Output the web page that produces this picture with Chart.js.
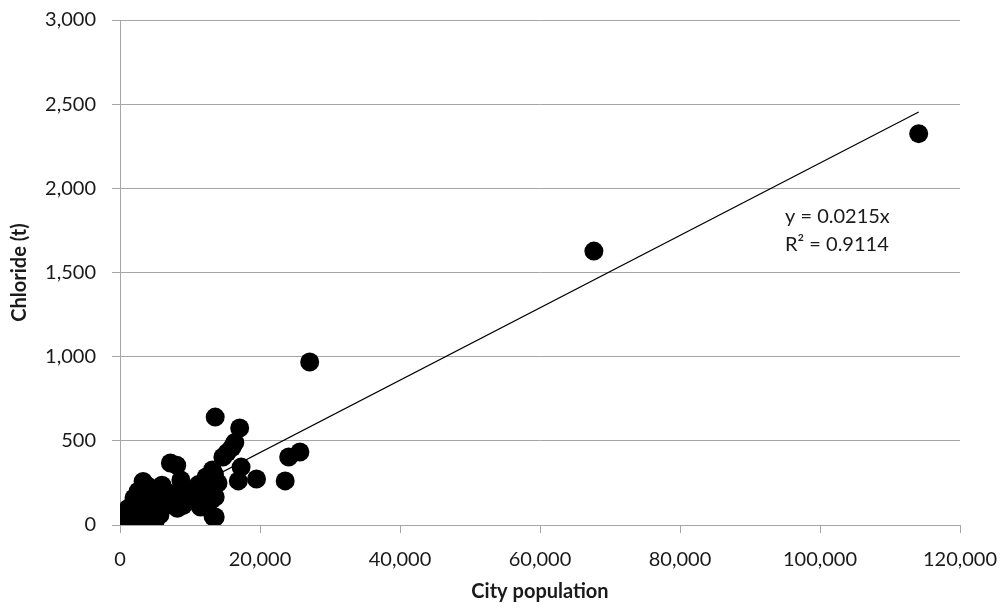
<!DOCTYPE html>
<html>
<head>
<meta charset="utf-8">
<script src="https://cdn.jsdelivr.net/npm/chart.js@4.4.1/dist/chart.umd.min.js"></script>
<style>
  html, body { margin: 0; padding: 0; background: #ffffff; }
  #wrap { width: 1004px; height: 610px; position: relative; }
</style>
</head>
<body>
<div id="wrap"><canvas id="c" width="1004" height="610"></canvas></div>
<script>
// City population (x) and chloride load in tonnes (y), one entry per city
const population = [
  114100, 67700, 27100, 13600, 17100, 16400, 16000, 15300, 14700, 25700,
  24100, 7200, 8100, 17300, 13200, 19500, 23600, 16900, 12300, 13500,
  11200, 8700, 3300, 6000, 13200, 13100, 13300, 11500, 9000, 9700,
  10600, 12000, 14000, 11400, 13600, 13600,
  500, 700, 900, 1100, 1300, 1500, 1700, 1900, 2100, 2300,
  2500, 2700, 2900, 3100, 3300, 3500, 3700, 3900, 4100, 4300,
  4500, 4700, 4900, 5100, 5300, 5500, 5700, 5900, 6200, 6500,
  6800, 7100, 7400, 7800, 8200, 8500, 2000, 2600, 4000, 5000,
  1200, 3600, 4400
];
const chloride = [
  2325, 1627, 968, 641, 576, 490, 460, 430, 404, 434,
  404, 368, 355, 344, 327, 273, 262, 262, 285, 300,
  240, 268, 258, 236, 226, 150, 50, 107, 115, 140,
  205, 180, 250, 208, 166, 48,
  20, 45, 10, 30, 60, 15, 90, 40, 120, 70,
  20, 140, 95, 50, 170, 120, 30, 190, 80, 150,
  210, 100, 40, 175, 130, 190, 60, 160, 110, 200,
  140, 170, 120, 150, 100, 200, 160, 200, 230, 20,
  100, 80, 55
];

// Axis tick values
const xTicks = [0, 20000, 40000, 60000, 80000, 100000, 120000];
const yTicks = [0, 500, 1000, 1500, 2000, 2500, 3000];

// Linear fit through the origin, as given in the equation label
const slope = 0.0215;
const rSquared = 0.9114;
const trendStart = 0;
const trendEnd = 114100;

const points = population.map((x, i) => ({ x: x, y: chloride[i] }));
const trend = [
  { x: trendStart, y: slope * trendStart },
  { x: trendEnd, y: slope * trendEnd }
];

const FONT = 'Lato, "Open Sans", sans-serif';
const fmt = v => v.toLocaleString('en-US');

const equationLabel = {
  id: 'equationLabel',
  afterDatasetsDraw(chart) {
    const { ctx, scales } = chart;
    const x = scales.x.getPixelForValue(95000);
    const y = scales.y.getPixelForValue(1830);
    ctx.save();
    ctx.fillStyle = '#1a1a1a';
    ctx.font = '20px ' + FONT;
    ctx.textAlign = 'left';
    ctx.textBaseline = 'middle';
    ctx.fillText('y = ' + slope + 'x', x, y);
    ctx.fillText('R\u00B2 = ' + rSquared, x, y + 28);
    ctx.restore();
  }
};

new Chart(document.getElementById('c'), {
  type: 'scatter',
  data: {
    datasets: [
      {
        label: 'Chloride',
        data: points,
        backgroundColor: '#000000',
        borderColor: '#000000',
        borderWidth: 0,
        pointRadius: 9.5,
        pointHoverRadius: 9.5
      },
      {
        label: 'Linear fit',
        type: 'line',
        data: trend,
        borderColor: '#000000',
        borderWidth: 1.2,
        pointRadius: 0,
        fill: false,
        tension: 0
      }
    ]
  },
  options: {
    responsive: false,
    animation: false,
    devicePixelRatio: 1,
    layout: { padding: { top: 20, right: 44, left: 0, bottom: 0 } },
    plugins: {
      legend: { display: false },
      tooltip: { enabled: false }
    },
    scales: {
      x: {
        type: 'linear',
        min: 0,
        max: 120000,
        afterBuildTicks: s => { s.ticks = xTicks.map(v => ({ value: v })); },
        afterFit: s => { s.height = 85; s.paddingLeft = 0; s.paddingRight = 0; },
        grid: {
          drawOnChartArea: false,
          drawTicks: true,
          tickLength: 8,
          color: '#a6a6a6'
        },
        border: { color: '#a6a6a6', width: 1 },
        ticks: {
          color: '#1a1a1a',
          font: { family: FONT, size: 20 },
          padding: 15,
          maxRotation: 0,
          callback: v => fmt(v)
        },
        title: {
          display: true,
          text: 'City population',
          color: '#1a1a1a',
          font: { family: FONT, size: 20, weight: 'bold' },
          padding: { top: 0, bottom: 6 }
        }
      },
      y: {
        type: 'linear',
        min: 0,
        max: 3000,
        afterBuildTicks: s => { s.ticks = yTicks.map(v => ({ value: v })); },
        afterFit: s => { s.width = 120; s.paddingTop = 0; s.paddingBottom = 0; },
        grid: {
          drawTicks: true,
          tickLength: 8,
          color: '#a6a6a6'
        },
        border: { color: '#a6a6a6', width: 1 },
        ticks: {
          color: '#1a1a1a',
          font: { family: FONT, size: 20 },
          padding: 16,
          callback: v => fmt(v)
        },
        title: {
          display: true,
          text: 'Chloride (t)',
          color: '#1a1a1a',
          font: { family: FONT, size: 20, weight: 'bold' },
          padding: { top: 8, bottom: 0 }
        }
      }
    }
  },
  plugins: [equationLabel]
});
</script>
</body>
</html>
